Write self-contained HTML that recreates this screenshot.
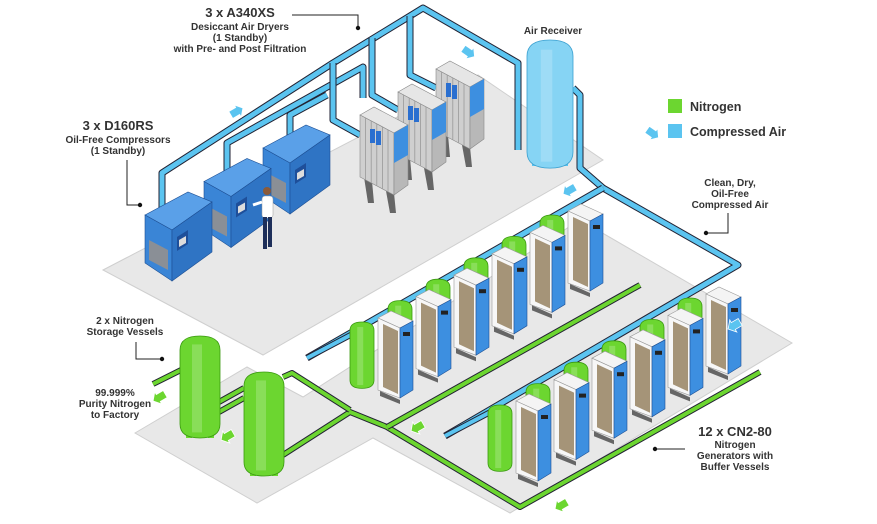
<!DOCTYPE html>
<html><head><meta charset="utf-8">
<style>
html,body{margin:0;padding:0;background:#fff;width:877px;height:524px;overflow:hidden}
svg{display:block}
text{font-family:"Liberation Sans",Arial,sans-serif;fill:#333;font-weight:bold;text-anchor:middle}
</style></head>
<body>
<svg id="s" width="877" height="524" viewBox="0 0 877 524" xmlns="http://www.w3.org/2000/svg">
<polygon points="103,270 478,75 603,160 263,355" fill="#e8e8e8" stroke="#cfcfcf"/>
<polygon points="135,433 247,367 303,397 580,220 792,343 510,513 373,438 257,503" fill="#e8e8e8" stroke="#cfcfcf"/>
<g id="dyn"></g>
<text x="240" y="17" font-size="13">3 x A340XS</text>
<text x="240" y="30" font-size="10">Desiccant Air Dryers</text>
<text x="240" y="41" font-size="10">(1 Standby)</text>
<text x="240" y="52" font-size="10">with Pre- and Post Filtration</text>
<polyline points="292,15 358,15 358,28" fill="none" stroke="#222" stroke-width="1"/><circle cx="358" cy="28" r="2.2" fill="#111"/>
<text x="118" y="130" font-size="13">3 x D160RS</text>
<text x="118" y="143" font-size="10">Oil-Free Compressors</text>
<text x="118" y="154" font-size="10">(1 Standby)</text>
<polyline points="127,160 127,205 140,205" fill="none" stroke="#222"/><circle cx="140" cy="205" r="2.2" fill="#111"/>
<text x="553" y="34" font-size="10">Air Receiver</text>
<rect x="668" y="99" width="14" height="14" fill="#6cd630"/>
<text x="690" y="111" font-size="12.5" style="text-anchor:start">Nitrogen</text>
<rect x="668" y="124" width="14" height="14" fill="#5bc4f0"/>
<text x="690" y="136" font-size="12.5" style="text-anchor:start">Compressed Air</text>
<text x="730" y="186" font-size="10">Clean, Dry,</text>
<text x="730" y="197" font-size="10">Oil-Free</text>
<text x="730" y="208" font-size="10">Compressed Air</text>
<polyline points="728,213 728,233 706,233" fill="none" stroke="#222"/><circle cx="706" cy="233" r="2.2" fill="#111"/>
<text x="125" y="324" font-size="10">2 x Nitrogen</text>
<text x="125" y="335" font-size="10">Storage Vessels</text>
<polyline points="136,342 136,359 162,359" fill="none" stroke="#222"/><circle cx="162" cy="359" r="2.2" fill="#111"/>
<text x="115" y="396" font-size="10">99.999%</text>
<text x="115" y="407" font-size="10">Purity Nitrogen</text>
<text x="115" y="418" font-size="10">to Factory</text>
<text x="735" y="436" font-size="13">12 x CN2-80</text>
<text x="735" y="448" font-size="10">Nitrogen</text>
<text x="735" y="459" font-size="10">Generators with</text>
<text x="735" y="470" font-size="10">Buffer Vessels</text>
<polyline points="685,449 655,449" fill="none" stroke="#222"/><circle cx="655" cy="449" r="2.2" fill="#111"/>
</svg>
<script>
var o='';
function P(pts,f,st){o+='<polygon points="'+pts+'" fill="'+f+'" stroke="'+(st||'none')+'" stroke-width="0.6"/>';}
function pipe(pts,c,w){w=w||5;o+='<polyline points="'+pts+'" fill="none" stroke="#223" stroke-width="'+(w+2)+'" stroke-linejoin="round"/><polyline points="'+pts+'" fill="none" stroke="'+c+'" stroke-width="'+w+'" stroke-linejoin="round"/>';}
var B='#5bc4f0',G='#6cd630';
function arrow(x,y,c,dir){o+='<g transform="translate('+x+','+y+') rotate('+dir+')"><polygon points="-6,-4 2,-4 2,-7 8,0 2,7 2,4 -6,4" fill="'+c+'" stroke="#fff" stroke-width="0.8"/></g>';}
function cyl(x,y,w,h,c,dk){var r=w*0.35;
 o+='<path d="M'+x+','+(y+r)+' Q'+x+','+y+' '+(x+w/2)+','+y+' Q'+(x+w)+','+y+' '+(x+w)+','+(y+r)+' L'+(x+w)+','+(y+h)+' Q'+(x+w)+','+(y+h+r)+' '+(x+w/2)+','+(y+h+r)+' Q'+x+','+(y+h+r)+' '+x+','+(y+h)+' Z" fill="'+c+'" stroke="'+dk+'" stroke-width="0.8"/>';
 o+='<rect x="'+(x+w*0.3)+'" y="'+(y+r*0.6)+'" width="'+w*0.25+'" height="'+h+'" fill="#fff" opacity="0.2"/>';}
pipe('162,210 162,173 333,63 410,16 423,8 518,63 518,150',B);
pipe('227,176 227,143 363,67 363,98',B);
pipe('290,140 290,115 327,95',B);
pipe('333,63 333,120 360,135',B);pipe('372,38 372,95 398,110',B);pipe('410,16 410,75 436,88',B);
pipe('573,88 580,95 580,168 603,188',B);
pipe('603,188 738,265 445,436',B);
pipe('603,188 307,358',B);
for(var i=2;i>=0;i--){var x=360+38*i,y=115-23*i;
 P((x+4)+','+(y+62)+' '+(x+8)+','+(y+88)+' '+(x+14)+','+(y+88)+' '+(x+12)+','+(y+66),'#666');
 P((x+26)+','+(y+76)+' '+(x+30)+','+(y+98)+' '+(x+36)+','+(y+98)+' '+(x+34)+','+(y+78),'#666');
 P(x+','+y+' '+(x+14)+','+(y-8)+' '+(x+48)+','+(y+10)+' '+(x+34)+','+(y+18),'#e6e6e6','#888');
 P(x+','+y+' '+(x+34)+','+(y+18)+' '+(x+34)+','+(y+80)+' '+x+','+(y+62),'#cfcfcf','#888');
 for(var r=1;r<6;r++){o+='<line x1="'+(x+r*5.6)+'" y1="'+(y+r*3)+'" x2="'+(x+r*5.6)+'" y2="'+(y+62+r*3)+'" stroke="#999" stroke-width="0.8"/>';}
 P((x+34)+','+(y+18)+' '+(x+48)+','+(y+10)+' '+(x+48)+','+(y+70)+' '+(x+34)+','+(y+80),'#b8b8b8','#888');
 P((x+34)+','+(y+18)+' '+(x+48)+','+(y+10)+' '+(x+48)+','+(y+40)+' '+(x+34)+','+(y+48),'#3d8fe0');
 o+='<rect x="'+(x+10)+'" y="'+(y+14)+'" width="5" height="14" fill="#2a6fd0"/><rect x="'+(x+16)+'" y="'+(y+16)+'" width="5" height="14" fill="#2a6fd0"/>';
}
for(var i=2;i>=0;i--){var dx=59*i,dy=-33.5*i;function q(a,b){return (a+dx)+','+(b+dy);}
 P(q(145,215)+' '+q(188,192)+' '+q(212,202)+' '+q(172,230),'#5aa0e8','#1d4f94');
 P(q(145,215)+' '+q(172,230)+' '+q(172,281)+' '+q(145,263),'#3a85d6','#1d4f94');
 P(q(172,230)+' '+q(212,202)+' '+q(212,252)+' '+q(172,281),'#2f74c4','#1d4f94');
 P(q(149,240)+' '+q(168,250)+' '+q(168,270)+' '+q(149,260),'#8a8f96');
 P(q(177,237)+' '+q(188,230)+' '+q(188,244)+' '+q(177,251),'#1e4f9a');
 P(q(179,240)+' '+q(186,236)+' '+q(186,243)+' '+q(179,247),'#ddd');
}
o+='<circle cx="267" cy="191" r="4" fill="#8a5a3a"/><rect x="262" y="196" width="11" height="22" rx="3" fill="#fff" stroke="#999" stroke-width="0.5"/><rect x="263" y="217" width="4" height="32" fill="#1e2f5a"/><rect x="268" y="217" width="4" height="30" fill="#1e2f5a"/><line x1="262" y1="202" x2="253" y2="205" stroke="#fff" stroke-width="3"/>';
o+='<rect x="532" y="150" width="5" height="16" fill="'+B+'"/><rect x="563" y="150" width="5" height="16" fill="'+B+'"/><rect x="547" y="152" width="5" height="16" fill="'+B+'"/>';
cyl(527,40,46,112,'#86d4f4','#3aa0d0');
function row(ox,oy){
 for(var k=5;k>=0;k--){var tx=362+ox+38*k,ty=322+oy-21.4*k;cyl(tx-12,ty,24,58,G,'#3a9a10');
  var cx=378+ox+38*k,cy=318+oy-21.4*k;
  P(cx+','+cy+' '+(cx+13)+','+(cy-7)+' '+(cx+35)+','+(cy+3)+' '+(cx+22)+','+(cy+10),'#f4f4f4','#999');
  P(cx+','+cy+' '+(cx+22)+','+(cy+10)+' '+(cx+22)+','+(cy+80)+' '+cx+','+(cy+72),'#f7f7f7','#999');
  P((cx+5)+','+(cy+6)+' '+(cx+20)+','+(cy+13)+' '+(cx+20)+','+(cy+76)+' '+(cx+5)+','+(cy+69),'#a59478');
  P((cx+22)+','+(cy+10)+' '+(cx+35)+','+(cy+3)+' '+(cx+35)+','+(cy+72)+' '+(cx+22)+','+(cy+80),'#3d8fe0','#1d4f94');
  o+='<rect x="'+(cx+25)+'" y="'+(cy+14)+'" width="7" height="4" fill="#222"/>';
  P((cx+2)+','+(cy+73)+' '+(cx+22)+','+(cy+82)+' '+(cx+22)+','+(cy+86)+' '+(cx+2)+','+(cy+78),'#666');
 }
}
pipe('307,358 360,330',B,4);
row(0,0);
pipe('445,436 498,408',B,4);
row(138,83);
pipe('283,455 350,412 387,427 520,507 760,372',G,4);
pipe('387,427 640,285',G,4);
pipe('283,377 292,373 350,410',G,4);
pipe('219,412 244,398',G,4);pipe('219,402 244,388',G,4);
pipe('185,368 153,384',G,4);
o+='<rect x="186" y="424" width="6" height="14" fill="'+G+'"/><rect x="208" y="424" width="6" height="14" fill="'+G+'"/>';
cyl(180,336,40,88,G,'#3a9a10');
o+='<rect x="250" y="462" width="6" height="14" fill="'+G+'"/><rect x="272" y="462" width="6" height="14" fill="'+G+'"/>';
cyl(244,372,40,90,G,'#3a9a10');
arrow(236,112,B,-30);arrow(468,52,B,35);arrow(570,190,B,150);arrow(652,133,B,35);arrow(735,325,B,150);
arrow(160,397,G,150);arrow(228,436,G,150);arrow(418,427,G,150);arrow(562,505,G,150);
document.getElementById('dyn').innerHTML=o;
</script>
</body></html>
